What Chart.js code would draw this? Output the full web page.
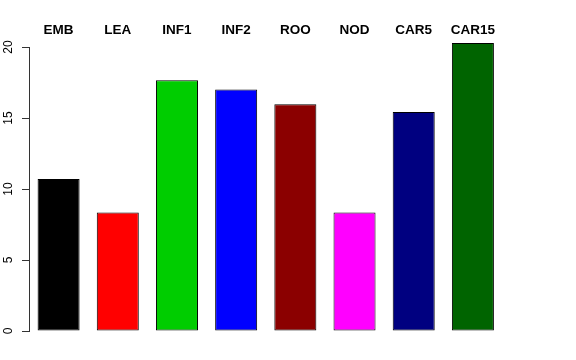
<!DOCTYPE html>
<html>
  <head>
    <meta charset="UTF-8" />
    <script src="https://cdn.jsdelivr.net/npm/chart.js"></script>
    <style>
      * { margin: 0; padding: 0; }
      body { background: #ffffff; width: 576px; height: 360px; overflow: hidden; }
      #wrap { width: 576px; height: 360px; }
    </style>
  </head>
  <body>
    <div id="wrap"><canvas id="bars"></canvas></div>
    <script>
      const categories = ["EMB", "LEA", "INF1", "INF2", "ROO", "NOD", "CAR5", "CAR15"];
      const values = [10.7, 8.35, 17.65, 17.0, 15.97, 8.35, 15.43, 20.28];
      const barColors = ["#000000", "#ff0000", "#00cd00", "#0000ff", "#8b0000", "#ff00ff", "#000080", "#006400"];
      const yTicks = [0, 5, 10, 15, 20];

      // draws the rotated y labels and the category names above the bars
      const labelsPlugin = {
        id: "rLabels",
        afterDraw(chart) {
          const ctx = chart.ctx;
          const x = chart.scales.x;
          const y = chart.scales.y;
          ctx.save();
          ctx.fillStyle = "#000000";
          ctx.font = "bold 13.5px 'Liberation Sans', Arial, sans-serif";
          ctx.textAlign = "center";
          ctx.textBaseline = "alphabetic";
          categories.forEach((c, i) => {
            ctx.fillText(c, x.getPixelForValue(i), 33.5);
          });
          ctx.font = "12px 'Liberation Sans', Arial, sans-serif";
          ctx.textBaseline = "middle";
          yTicks.forEach((t) => {
            ctx.save();
            ctx.translate(8.5, y.getPixelForValue(t));
            ctx.rotate(-Math.PI / 2);
            ctx.fillText(String(t), 0, 0);
            ctx.restore();
          });
          ctx.restore();
        },
      };

      new Chart(document.getElementById("bars"), {
        type: "bar",
        data: {
          labels: categories,
          datasets: [
            {
              data: values,
              backgroundColor: barColors,
              borderColor: "#000000",
              borderWidth: 1,
              borderSkipped: false,
              barPercentage: 0.71,
              categoryPercentage: 1,
              clip: false,
            },
          ],
        },
        options: {
          responsive: true,
          maintainAspectRatio: false,
          animation: false,
          layout: { padding: { left: 0, right: 73.5, top: 47, bottom: 29 } },
          plugins: { legend: { display: false }, tooltip: { enabled: false } },
          scales: {
            x: {
              display: false,
            },
            y: {
              min: 0,
              max: 20,
              afterBuildTicks(scale) {
                scale.ticks = yTicks.map((v) => ({ value: v }));
              },
              afterFit(scale) {
                scale.width = 29;
              },
              border: { display: true, color: "#333333", width: 1 },
              grid: { drawOnChartArea: false, drawTicks: true, tickLength: 7, color: "#333333" },
              ticks: { display: false },
            },
          },
        },
        plugins: [labelsPlugin],
      });
    </script>
  </body>
</html>
